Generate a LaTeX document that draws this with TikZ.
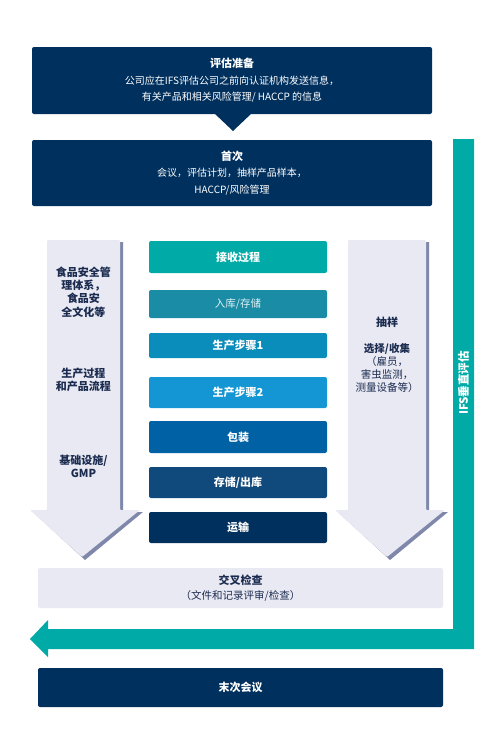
\documentclass[tikz,border=0pt]{standalone}
\usepackage{fontspec}
\setmainfont{Noto Sans CJK SC}
\definecolor{navy}{HTML}{00305E}
\definecolor{ifsteal}{HTML}{00ABA7}
\definecolor{stepB}{HTML}{1A8CA5}
\definecolor{stepC}{HTML}{0A8DBB}
\definecolor{stepD}{HTML}{1496D4}
\definecolor{stepE}{HTML}{0062A4}
\definecolor{stepF}{HTML}{104A7C}
\definecolor{lightfill}{HTML}{E8E9F2}
\definecolor{shadowc}{HTML}{7F88AA}
\definecolor{txtnavy}{HTML}{1B2B4F}
\begin{document}
\begin{tikzpicture}[x=1pt,y=-1pt,
  darkbox/.style={fill=navy, rounded corners=2pt, inner sep=0pt, text=white, align=center,
    font=\fontsize{10}{16.5}\selectfont},
  stepbox/.style={rounded corners=2pt, inner sep=0pt, minimum width=178, text=white,
    font=\bfseries\fontsize{11}{13}\selectfont},
  sidetext/.style={text=txtnavy, align=center, font=\bfseries\fontsize{11}{13.4}\selectfont},
  ttl/.style={font=\bfseries\fontsize{11}{16.5}\selectfont}
]
\useasboundingbox (0,0) rectangle (488,737);

% teal IFS vertical assessment arrow
\fill[ifsteal] (453,139) -- (474,139) -- (474,649) -- (48,649) -- (48,657) -- (30,639)
  -- (48,620) -- (48,629) -- (453,629) -- cycle;
\node[rotate=90, text=white, font=\bfseries\fontsize{11.5}{13}\selectfont] (ifs) at (463.5,383) {IFS垂直评估};

% top boxes
\node[darkbox, minimum width=400, minimum height=67] (prep) at (232,80.5)
  {{\bfseries\fontsize{11}{16.5}\selectfont 评估准备}\\公司应在IFS评估公司之前向认证机构发送信息，\\有关产品和相关风险管理/ HACCP 的信息};
\fill[navy] (214,113) -- (252,113) -- (233,131) -- cycle;
\node[darkbox, minimum width=400, minimum height=66] (first) at (232,173)
  {{\bfseries\fontsize{11}{16.5}\selectfont 首次}\\会议，评估计划，抽样产品样本，\\HACCP/风险管理};

% left big arrow
\fill[shadowc] (50,242) -- (123,242) -- (123,512) -- (143,512) -- (85,560) -- (33,512) -- (50,512) -- cycle;
\fill[lightfill, rounded corners=1pt] (47,240) -- (120,240) -- (120,510) -- (140,510) -- (82,557) -- (30,510) -- (47,510) -- cycle;
\node[sidetext] (lt1) at (83.5,292) {食品安全管\\理体系，\\食品安\\全文化等};
\node[sidetext] (lt2) at (83.5,380) {生产过程\\和产品流程};
\node[sidetext] (lt3) at (83.5,466.5) {基础设施/\\GMP};

% right big arrow
\fill[shadowc] (351,242) -- (429,242) -- (429,512) -- (448,512) -- (390,560) -- (338,512) -- (351,512) -- cycle;
\fill[lightfill, rounded corners=1pt] (348,240) -- (426,240) -- (426,510) -- (445,510) -- (387,557) -- (335,510) -- (348,510) -- cycle;
\node[sidetext] (rt1) at (387,322) {抽样};
\node[sidetext, font=\fontsize{10.5}{13}\selectfont] (rt2) at (387,368)
  {{\bfseries 选择/收集}\\（雇员，\\害虫监测，\\测量设备等）};

% process steps
\node[stepbox, fill=ifsteal, minimum height=32] (s1) at (238,257) {接收过程};
\node[stepbox, fill=stepB, minimum height=28, font=\fontsize{10.5}{13}\selectfont, text=white!88!stepB] (s2) at (238,304) {入库/存储};
\node[stepbox, fill=stepC, minimum height=25] (s3) at (238,345.5) {生产步骤1};
\node[stepbox, fill=stepD, minimum height=31] (s4) at (238,392.5) {生产步骤2};
\node[stepbox, fill=stepE, minimum height=32] (s5) at (238,437) {包装};
\node[stepbox, fill=stepF, minimum height=31] (s6) at (238,482.5) {存储/出库};
\node[stepbox, fill=navy, minimum height=31] (s7) at (238,527.5) {运输};

% cross check
\node[fill=lightfill, rounded corners=2pt, inner sep=0pt, minimum width=405, minimum height=40,
  text=txtnavy, align=center, font=\fontsize{10.5}{15}\selectfont] (cross) at (240.5,588)
  {{\bfseries\fontsize{11}{15}\selectfont 交叉检查}\\（文件和记录评审/检查）};

% closing meeting
\node[darkbox, minimum width=405, minimum height=39, font=\bfseries\fontsize{11}{13}\selectfont] (final) at (240.5,687.5) {末次会议};
\end{tikzpicture}
\end{document}
